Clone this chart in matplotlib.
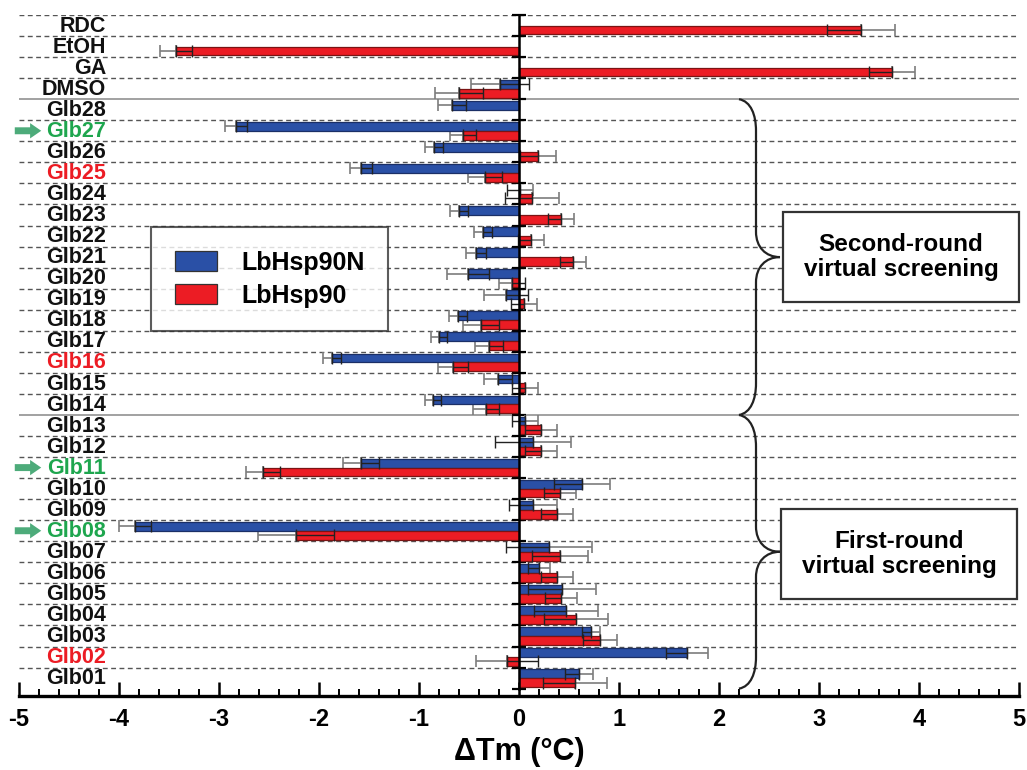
import numpy as np
import matplotlib
matplotlib.use("Agg")
import matplotlib.pyplot as plt
from matplotlib.path import Path
from matplotlib.patches import PathPatch

plt.rcParams['font.family'] = ['Liberation Sans', 'DejaVu Sans']
plt.rcParams['font.weight'] = 'bold'
plt.rcParams['axes.unicode_minus'] = False

# rows listed top to bottom
labels = ['RDC', 'EtOH', 'GA', 'DMSO',
          'Glb28', 'Glb27', 'Glb26', 'Glb25', 'Glb24', 'Glb23', 'Glb22', 'Glb21',
          'Glb20', 'Glb19', 'Glb18', 'Glb17', 'Glb16', 'Glb15', 'Glb14',
          'Glb13', 'Glb12', 'Glb11', 'Glb10', 'Glb09', 'Glb08', 'Glb07', 'Glb06',
          'Glb05', 'Glb04', 'Glb03', 'Glb02', 'Glb01']

nan = np.nan
hsp90n = [nan, nan, nan, -0.19,
          -0.67, -2.83, -0.85, -1.58, 0.01, -0.60, -0.36, -0.43,
          -0.51, -0.13, -0.61, -0.80, -1.87, -0.21, -0.86,
          0.06, 0.14, -1.58, 0.63, 0.14, -3.84, 0.30, 0.20,
          0.43, 0.47, 0.72, 1.68, 0.60]
hsp90n_err = [nan, nan, nan, 0.29,
              0.14, 0.11, 0.09, 0.11, 0.13, 0.09, 0.09, 0.10,
              0.21, 0.22, 0.09, 0.08, 0.09, 0.14, 0.08,
              0.13, 0.38, 0.18, 0.28, 0.24, 0.16, 0.43, 0.11,
              0.34, 0.32, 0.09, 0.21, 0.14]

hsp90 = [3.42, -3.43, 3.73, -0.60,
         nan, -0.56, 0.19, -0.34, 0.13, 0.42, 0.12, 0.54,
         -0.07, 0.05, -0.38, -0.30, -0.66, 0.06, -0.33,
         0.22, 0.22, -2.56, 0.41, 0.38, -2.23, 0.41, 0.38,
         0.42, 0.57, 0.81, -0.12, 0.56]
hsp90_err = [0.34, 0.16, 0.23, 0.24,
             nan, 0.13, 0.18, 0.17, 0.27, 0.13, 0.13, 0.13,
             0.13, 0.13, 0.18, 0.14, 0.15, 0.13, 0.13,
             0.16, 0.16, 0.17, 0.16, 0.16, 0.38, 0.28, 0.16,
             0.16, 0.32, 0.17, 0.31, 0.32]

hit_labels = ['Glb27', 'Glb11', 'Glb08']
red_labels = ['Glb25', 'Glb16', 'Glb02']

BLUE = '#2a50a6'
BLUE_EDGE = '#1b2f66'
RED = '#ec1c24'
RED_EDGE = '#7a1414'
GREEN = '#1ea64e'
ARROW = '#4dab7a'

n = len(labels)
rows = np.arange(n)


def split_err(vals, errs):
    # outer half of the error bar goes away from zero, inner half over the bar
    vals = np.asarray(vals, float)
    errs = np.asarray(errs, float)
    neg = vals < 0
    outer = np.vstack([np.where(neg, errs, 0), np.where(neg, 0, errs)])
    inner = np.vstack([np.where(neg, 0, errs), np.where(neg, errs, 0)])
    return outer, inner


def brace(ax, ya, yb, x0=2.2, x1=2.37, x2=2.61, d=1.5, e=1.2):
    ym = (ya + yb) / 2
    verts = [(x0, ya),
             (x0 + 0.7 * (x1 - x0), ya + 0.1), (x1, ya + 0.5 * d), (x1, ya + d),
             (x1, ym - e),
             (x1, ym - 0.4 * e), (x1 + 0.4 * (x2 - x1), ym), (x2, ym),
             (x1 + 0.4 * (x2 - x1), ym), (x1, ym + 0.4 * e), (x1, ym + e),
             (x1, yb - d),
             (x1, yb - 0.5 * d), (x0 + 0.7 * (x1 - x0), yb - 0.1), (x0, yb)]
    codes = [Path.MOVETO,
             Path.CURVE4, Path.CURVE4, Path.CURVE4,
             Path.LINETO,
             Path.CURVE4, Path.CURVE4, Path.CURVE4,
             Path.CURVE4, Path.CURVE4, Path.CURVE4,
             Path.LINETO,
             Path.CURVE4, Path.CURVE4, Path.CURVE4]
    ax.add_patch(PathPatch(Path(verts, codes), fill=False, lw=1.6,
                           edgecolor='#222222', zorder=4))


fig = plt.figure(figsize=(10.27, 7.7), dpi=100)
ax = fig.add_axes([19 / 1027, 1 - 696 / 770, 1000 / 1027, 681 / 770])

ax.set_xlim(-5, 5)
ax.set_ylim(32.35, 0)

# row separators
for k in range(n):
    if k in (4, 19):
        ax.axhline(k, color='#9a9a9a', lw=1.3, zorder=1)
    else:
        ax.axhline(k, color='#555555', lw=1.0, ls=(0, (3.5, 2.5)), zorder=1)

h = 0.42
yb = rows + 0.29
yr = rows + 0.71
ax.barh(yb, hsp90n, height=h, color=BLUE, edgecolor=BLUE_EDGE, lw=0.9,
        zorder=3, label='LbHsp90N')
ax.barh(yr, hsp90, height=h, color=RED, edgecolor=RED_EDGE, lw=0.9,
        zorder=3, label='LbHsp90')

for vals, errs, ys in ((hsp90n, hsp90n_err, yb), (hsp90, hsp90_err, yr)):
    outer, inner = split_err(vals, errs)
    ax.errorbar(vals, ys, xerr=outer, fmt='none', ecolor='#7d7d7d',
                elinewidth=1.2, capsize=4.5, capthick=1.2, zorder=2)
    ax.errorbar(vals, ys, xerr=inner, fmt='none', ecolor='#222222',
                elinewidth=1.0, capsize=4.5, capthick=1.0, zorder=3.5)

# row labels
for k, lab in enumerate(labels):
    if lab in hit_labels:
        col = GREEN
    elif lab in red_labels:
        col = RED
    else:
        col = '#111111'
    ax.text(-4.13, k + 0.53, lab, ha='right', va='center', fontsize=15.5,
            fontweight='bold', color=col, zorder=5)
    if lab in hit_labels:
        ax.annotate('', xy=(-4.75, k + 0.5), xytext=(-5.07, k + 0.5),
                    arrowprops=dict(arrowstyle='simple,head_width=1.1,head_length=0.8,tail_width=0.5',
                                    color=ARROW, lw=0),
                    annotation_clip=False, zorder=5)

# spines: zero line with row ticks, thick bottom axis
for s in ('top', 'right'):
    ax.spines[s].set_visible(False)
ax.spines['left'].set_position(('data', 0))
ax.spines['left'].set_bounds(32, 0)
ax.spines['left'].set_linewidth(1.8)
ax.spines['left'].set_zorder(4)
ax.spines['bottom'].set_linewidth(2.4)

ax.set_yticks(np.arange(0, n + 1))
ax.set_yticklabels([])
ax.tick_params(axis='y', direction='inout', length=10, width=1.6)

ax.set_xticks(np.arange(-5, 6, 1))
ax.set_xticks(np.arange(-5, 5.01, 0.2), minor=True)
ax.tick_params(axis='x', which='major', direction='in', length=10, width=1.8,
               labelsize=17, pad=9)
ax.tick_params(axis='x', which='minor', direction='in', length=5, width=1.4)
for t in ax.get_xticklabels():
    t.set_fontweight('bold')
ax.set_xlabel('ΔTm (°C)', fontsize=22, fontweight='bold', labelpad=4)

# legend
leg = ax.legend(loc='upper left', bbox_to_anchor=(132 / 1000, 1 - (227 - 15) / 681),
                fontsize=18, frameon=True, fancybox=False, edgecolor='#333333',
                handlelength=1.7, handleheight=0.85, handletextpad=0.95,
                borderpad=0.95, labelspacing=0.35, borderaxespad=0)
leg.get_frame().set_linewidth(1.5)
for t in leg.get_texts():
    t.set_fontweight('bold')
for p in leg.get_patches():
    p.set_edgecolor('#333333')

# screening round braces and boxes
brace(ax, 4, 19)
brace(ax, 19, 32)
box = dict(boxstyle='square,pad=0.85', facecolor='white', edgecolor='#333333', lw=1.6)
ax.text(3.82, 11.5, 'Second-round\nvirtual screening', ha='center', va='center',
        fontsize=17.5, fontweight='bold', linespacing=1.15, bbox=box, zorder=5)
ax.text(3.80, 25.6, 'First-round\nvirtual screening', ha='center', va='center',
        fontsize=17.5, fontweight='bold', linespacing=1.15, bbox=box, zorder=5)

fig.savefig('out.png', dpi=100)
